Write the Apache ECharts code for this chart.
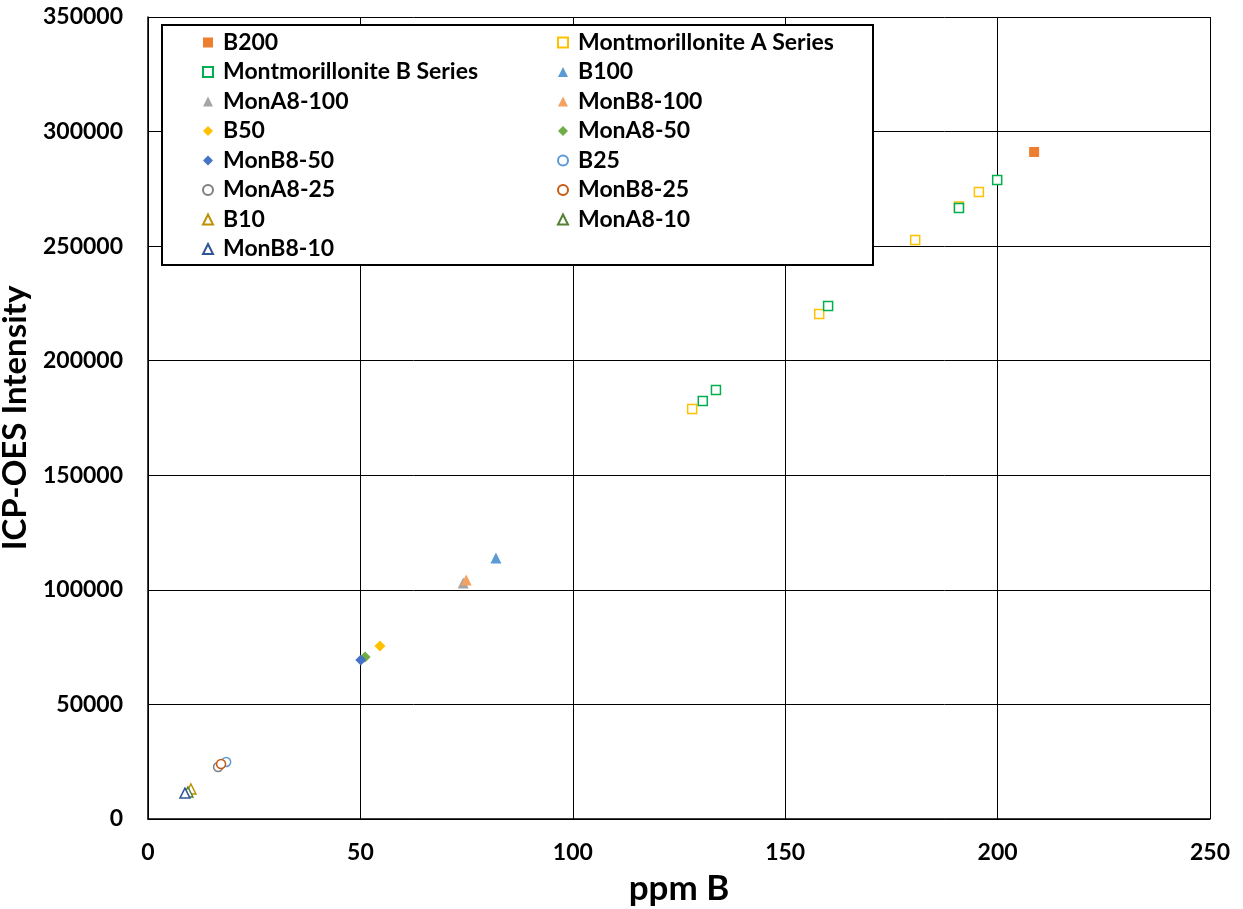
<!DOCTYPE html>
<html>
<head>
<meta charset="utf-8">
<script src="https://cdn.jsdelivr.net/npm/echarts@6/dist/echarts.min.js"></script>
<style>
  html, body { margin: 0; padding: 0; background: #fff; }
  #main { width: 1243px; height: 909px; }
</style>
</head>
<body>
<div id="main"></div>
<script>
// 数据：每个系列 [ppm B, ICP-OES 强度]
var B200 = [[208.6, 291100]];
var monASeries = [[128.1, 178900], [158.0, 220400], [180.6, 252700], [190.9, 267300], [195.6, 273600]];
var monBSeries = [[130.6, 182400], [133.7, 187200], [160.1, 223900], [190.9, 266700], [199.9, 278900]];
var B100 = [[81.9, 113900]];
var monA8_100 = [[74.2, 103000]];
var monB8_100 = [[74.9, 104300]];
var B50 = [[54.6, 75500]];
var monA8_50 = [[51.1, 70700]];
var monB8_50 = [[50.1, 69400]];
var B25 = [[18.4, 24900]];
var monA8_25 = [[16.5, 22700]];
var monB8_25 = [[17.2, 24000]];
var B10 = [[10.1, 13100]];
var monA8_10 = [[9.4, 11800]];
var monB8_10 = [[8.7, 11300]];

var legendCol1 = ['B200', 'Montmorillonite B Series', 'MonA8-100', 'B50', 'MonB8-50', 'MonA8-25', 'B10', 'MonB8-10'];
var legendCol2 = ['Montmorillonite A Series', 'B100', 'MonB8-100', 'MonA8-50', 'B25', 'MonB8-25', 'MonA8-10'];

var FONT = 'Lato, Carlito, "Liberation Sans", sans-serif';

// filled 实心 / hollow 空心
function filled(name, data, symbol, color, size) {
    return {
        name: name, type: 'scatter', data: data, symbol: symbol, symbolSize: size,
        itemStyle: { color: color, opacity: 1 }
    };
}
function hollow(name, data, symbol, color, size) {
    return {
        name: name, type: 'scatter', data: data, symbol: symbol, symbolSize: size,
        itemStyle: { color: '#fff', borderColor: color, borderWidth: 1.5, opacity: 1 }
    };
}

var legendBase = {
    orient: 'vertical',
    padding: 0,
    itemWidth: 10,
    itemHeight: 10,
    itemGap: 6.5,
    z: 10,
    textStyle: {
        fontFamily: FONT, fontWeight: 'bold', fontSize: 23, color: '#000',
        lineHeight: 20, padding: [0, 0, 0, 5]
    }
};

var chart = echarts.init(document.getElementById('main'));
chart.setOption({
    animation: false,
    backgroundColor: '#fff',
    grid: { left: 148, right: 33, top: 17, bottom: 90, containLabel: false, outerBoundsMode: 'none' },
    graphic: [{
        type: 'rect', z: 5,
        shape: { x: 162, y: 25, width: 711, height: 240 },
        style: { fill: '#fff', stroke: '#000', lineWidth: 2 }
    }],
    legend: [
        Object.assign({ data: legendCol1, left: 202, top: 31 }, legendBase),
        Object.assign({ data: legendCol2, left: 557, top: 31 }, legendBase)
    ],
    xAxis: {
        type: 'value', min: 0, max: 250, interval: 50,
        name: 'ppm B', nameLocation: 'middle', nameGap: 52,
        nameTextStyle: { fontFamily: FONT, fontWeight: 'bold', fontSize: 35, color: '#000' },
        axisLine: { show: true, lineStyle: { color: '#000', width: 1.5 } },
        axisTick: { show: false },
        axisLabel: { fontFamily: FONT, fontWeight: 'bold', fontSize: 23, color: '#000', margin: 22 },
        splitLine: { show: true, lineStyle: { color: '#000', width: 1 } }
    },
    yAxis: {
        type: 'value', min: 0, max: 350000, interval: 50000,
        name: 'ICP-OES Intensity', nameLocation: 'middle', nameGap: 102,
        nameTextStyle: { fontFamily: FONT, fontWeight: 'bold', fontSize: 33, color: '#000' },
        axisLine: { show: true, lineStyle: { color: '#000', width: 1.5 } },
        axisTick: { show: false },
        axisLabel: {
            fontFamily: FONT, fontWeight: 'bold', fontSize: 23, color: '#000', margin: 25,
            formatter: function (v) { return String(v); }
        },
        splitLine: { show: true, lineStyle: { color: '#000', width: 1 } }
    },
    series: [
        filled('B200', B200, 'rect', '#ED7D31', 10),
        hollow('Montmorillonite A Series', monASeries, 'rect', '#FFC000', 9),
        hollow('Montmorillonite B Series', monBSeries, 'rect', '#00B050', 9),
        filled('B100', B100, 'triangle', '#5B9BD5', 11),
        filled('MonA8-100', monA8_100, 'triangle', '#A5A5A5', 11),
        filled('MonB8-100', monB8_100, 'triangle', '#F4A261', 11),
        filled('B50', B50, 'diamond', '#FFC000', 11),
        filled('MonA8-50', monA8_50, 'diamond', '#70AD47', 11),
        filled('MonB8-50', monB8_50, 'diamond', '#4472C4', 11),
        hollow('B25', B25, 'circle', '#5B9BD5', 9),
        hollow('MonA8-25', monA8_25, 'circle', '#7F7F7F', 9),
        hollow('MonB8-25', monB8_25, 'circle', '#C55A11', 9),
        hollow('B10', B10, 'triangle', '#BF9000', 10),
        hollow('MonA8-10', monA8_10, 'triangle', '#548235', 10),
        hollow('MonB8-10', monB8_10, 'triangle', '#2F5597', 10)
    ]
});
</script>
</body>
</html>
